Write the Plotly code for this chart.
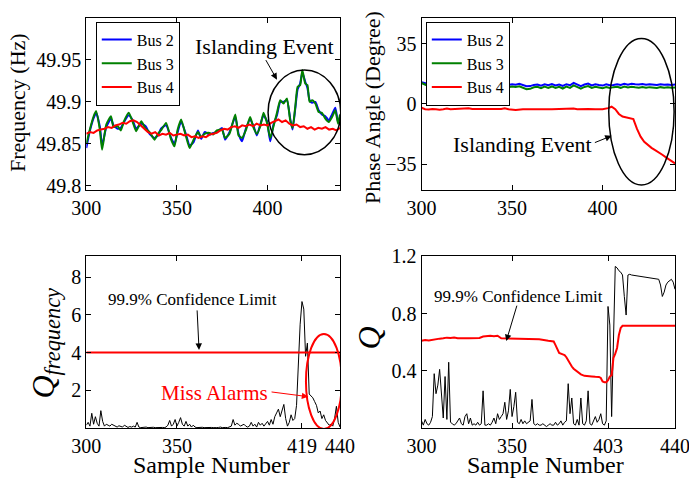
import plotly.graph_objects as go

# ---------------- data ----------------
# Panel 1: frequency (Hz)
freq_x = [300, 301.8, 303.9, 305.4, 307.5, 308.7, 311, 313.6, 315, 317.3, 319, 320.8, 323.4, 325.6,
          327.5, 330.3, 332.7, 334.9, 337.6, 339.5, 341.2, 344, 346.8, 348.6, 350.4, 352.3, 355, 357,
          359.2, 361.6, 363.4, 365.3, 368, 370, 372, 374.8, 376.6, 379, 382.2, 384, 385.9, 388, 390.4,
          392.3, 394.1, 396, 397.8, 399.7, 401.5, 403.3, 405.2, 407, 408.8, 410.7, 412.5, 413.8, 415.3,
          416.6, 418, 419.2, 420.8, 422, 423.2, 424.6, 426.4, 428.2, 430, 431.9, 433.8, 435.6, 437.4,
          438.9, 440]
bus3_freq = [49.850, 49.866, 49.882, 49.889, 49.866, 49.843, 49.873, 49.883, 49.870, 49.871, 49.866,
             49.877, 49.887, 49.876, 49.865, 49.877, 49.868, 49.864, 49.855, 49.862, 49.866, 49.875,
             49.855, 49.847, 49.867, 49.879, 49.859, 49.845, 49.855, 49.864, 49.858, 49.862, 49.863,
             49.861, 49.866, 49.867, 49.857, 49.862, 49.885, 49.860, 49.857, 49.866, 49.882, 49.869,
             49.862, 49.871, 49.887, 49.875, 49.857, 49.871, 49.887, 49.902, 49.898, 49.904, 49.878,
             49.869, 49.894, 49.918, 49.920, 49.938, 49.922, 49.920, 49.900, 49.902, 49.898, 49.888,
             49.887, 49.880, 49.876, 49.882, 49.890, 49.874, 49.885]
bus2_freq = [49.845, 49.864, 49.880, 49.887, 49.870, 49.848, 49.870, 49.880, 49.872, 49.868, 49.869,
             49.876, 49.884, 49.878, 49.868, 49.874, 49.871, 49.862, 49.857, 49.860, 49.868, 49.872,
             49.857, 49.850, 49.864, 49.877, 49.861, 49.848, 49.852, 49.866, 49.856, 49.864, 49.861,
             49.863, 49.864, 49.869, 49.855, 49.864, 49.882, 49.862, 49.853, 49.868, 49.879, 49.871,
             49.860, 49.873, 49.884, 49.877, 49.853, 49.873, 49.884, 49.900, 49.900, 49.902, 49.880,
             49.867, 49.892, 49.915, 49.922, 49.935, 49.924, 49.917, 49.902, 49.899, 49.900, 49.890,
             49.885, 49.883, 49.878, 49.885, 49.893, 49.876, 49.882]
step2_x = list(range(300, 441, 2))
bus4_freq = [49.862, 49.864, 49.863, 49.866, 49.867, 49.868, 49.870, 49.869, 49.872, 49.873,
             49.875, 49.874, 49.877, 49.878, 49.876, 49.872, 49.869, 49.864, 49.862, 49.864,
             49.860, 49.862, 49.861, 49.863, 49.860, 49.861, 49.862, 49.860, 49.861, 49.858,
             49.859, 49.857, 49.859, 49.858, 49.861, 49.862, 49.863, 49.866, 49.868, 49.867,
             49.870, 49.871, 49.869, 49.872, 49.871, 49.873, 49.871, 49.874, 49.872, 49.873,
             49.872, 49.875, 49.877, 49.879, 49.876, 49.878, 49.874, 49.872, 49.873, 49.870,
             49.871, 49.868, 49.870, 49.867, 49.869, 49.868, 49.870, 49.867, 49.868, 49.866,
             49.869]

# Panel 2: phase angle (degree)
bus2_phase = [12.6, 12.0, 11.4, 11.0, 11.3, 10.9, 11.4, 11.1, 11.3, 11.0,
              11.4, 11.2, 11.0, 11.3, 11.1, 11.4, 11.0, 11.2, 11.4, 11.1,
              11.3, 11.0, 11.4, 11.2, 11.1, 11.5, 11.2, 11.7, 11.0, 10.3,
              10.4, 11.1, 11.3, 10.7, 11.4, 10.9, 11.6, 10.8, 11.3, 10.5,
              11.5, 10.9, 12.3, 11.1, 10.4, 11.3, 11.9, 10.8, 11.4, 11.0,
              10.7, 11.4, 10.9, 11.1, 11.5, 11.0, 11.7, 11.2, 11.8, 11.5,
              11.3, 11.6, 11.2, 11.5, 11.3, 11.1, 11.5, 11.2, 11.4, 11.1, 11.3]
bus3_phase = [12.2, 11.2, 10.3, 9.8, 10.1, 9.6, 10.0, 9.7, 10.0, 9.7,
              10.1, 9.8, 9.6, 10.0, 9.8, 10.1, 9.7, 9.9, 10.1, 9.8,
              10.0, 9.7, 10.1, 9.9, 9.8, 10.2, 9.9, 10.3, 9.5, 8.6,
              8.8, 9.7, 10.0, 9.2, 10.1, 9.4, 10.2, 9.3, 10.0, 9.0,
              10.1, 9.4, 10.8, 9.6, 8.9, 9.9, 10.4, 9.3, 10.0, 9.6,
              9.2, 9.9, 9.3, 9.8, 10.0, 9.4, 10.1, 9.6, 10.0, 9.7,
              9.5, 9.9, 9.4, 9.8, 9.6, 9.3, 9.8, 9.5, 9.7, 9.4, 9.6]
bus4_phase_x = [300, 302, 304, 306, 308, 310, 312, 314, 316, 318,
                320, 324, 326, 328, 332, 336, 340, 344, 346, 348,
                352, 356, 360, 364, 368, 372, 376, 380, 384, 386,
                388, 392, 396, 400, 403, 405, 407, 409, 411, 413,
                415, 417, 419, 421, 423, 425, 427, 429, 431, 433,
                435, 437, 440]
bus4_phase = [-2.2, -3.0, -3.2, -2.9, -3.1, -3.3, -3.0, -2.6, -3.1, -3.0,
              -3.2, -2.8, -2.5, -2.9, -3.0, -3.1, -3.0, -2.9, -2.5, -3.0,
              -3.5, -3.0, -3.1, -2.9, -3.0, -3.1, -2.9, -3.0, -2.6, -3.0,
              -3.1, -2.9, -3.0, -3.0, -2.4, -1.6, -3.0, -5.8, -7.3, -7.8,
              -8.2, -8.8, -14.5, -19.0, -22.0, -24.0, -25.5, -26.8, -28.0, -29.5,
              -31.0, -32.5, -34.5]

# Panel 3: Q_frequency
sample_x = list(range(300, 441))
q_freq = [0.15, 0.30, 0.10, 0.78, 0.20, 0.60, 0.25, 0.10, 0.92, 0.35,
          0.10, 0.20, 0.15, 0.10, 0.20, 0.15, 0.10, 0.05, 0.12, 0.08,
          0.05, 0.15, 0.10, 0.03, 0.08, 0.05, 0.10, 0.05, 0.30, 0.05,
          0.02, 0.04, 0.02, 0.05, 0.02, 0.03, 0.02, 0.04, 0.02, 0.03,
          0.05, 0.02, 0.03, 0.02, 0.05, 0.15, 0.40, 0.10, 0.20, 0.45,
          0.10, 0.30, 0.55, 0.20, 0.10, 0.35, 0.10, 0.20, 0.05, 0.15,
          0.05, 0.02, 0.03, 0.02, 0.04, 0.02, 0.03, 0.02, 0.05, 0.03,
          0.02, 0.04, 0.02, 0.03, 0.05, 0.02, 0.04, 0.03, 0.02, 0.05,
          0.10, 0.45, 0.15, 0.25, 0.20, 0.10, 0.15, 0.20, 0.10, 0.05,
          0.10, 0.30, 0.10, 0.20, 0.05, 0.30, 0.15, 0.25, 0.10, 0.20,
          0.35, 0.15, 0.45, 0.20, 0.60, 0.80, 1.00, 0.60, 0.90, 1.25,
          0.50, 0.10, 0.30, 0.70, 0.40, 0.50, 1.20, 3.80, 5.50, 6.70,
          6.30, 3.80, 4.50, 1.80, 1.70, 1.60, 1.40, 1.20, 0.80, 0.90,
          0.50, 0.70, 0.40, 0.30, 0.15, 0.20, 0.10, 0.50, 1.15, 0.30,
          0.05]
q_freq_limit = 4.0

# Panel 4: Q
q_pca = [0.05, 0.02, 0.06, 0.03, 0.02, 0.04, 0.08, 0.38, 0.24, 0.30,
         0.41, 0.20, 0.07, 0.36, 0.06, 0.46, 0.04, 0.03, 0.02, 0.03,
         0.05, 0.07, 0.03, 0.02, 0.08, 0.10, 0.03, 0.07, 0.02, 0.03,
         0.02, 0.04, 0.02, 0.03, 0.26, 0.02, 0.02, 0.03, 0.02, 0.04,
         0.07, 0.03, 0.10, 0.06, 0.08, 0.10, 0.18, 0.06, 0.12, 0.27,
         0.08, 0.15, 0.25, 0.04, 0.03, 0.06, 0.03, 0.05, 0.03, 0.04,
         0.05, 0.20, 0.03, 0.02, 0.03, 0.02, 0.02, 0.03, 0.02, 0.01,
         0.02, 0.03, 0.02, 0.02, 0.04, 0.02, 0.03, 0.05, 0.02, 0.04,
         0.05, 0.31, 0.10, 0.21, 0.03, 0.02, 0.06, 0.02, 0.21, 0.03,
         0.02, 0.05, 0.26, 0.03, 0.02, 0.05, 0.08, 0.04, 0.06, 0.10,
         0.03, 0.02, 0.05, 0.85, 0.72, 0.08, 0.60, 1.13, 1.12, 1.10,
         1.09, 1.07, 0.92, 0.79, 1.07, 1.075, 1.07, 1.068, 1.065, 1.063,
         1.06, 1.058, 1.055, 1.053, 1.052, 1.05, 1.05, 1.048, 1.046, 1.045,
         1.043, 1.04, 1.0, 0.92, 0.95, 1.0, 1.02, 1.03, 1.04, 1.02,
         0.97]
q_limit_x = [300, 302, 304, 306, 308, 310, 312, 314, 316, 318, 320, 322, 324, 326, 328, 330, 332,
             334, 336, 338, 340, 342, 344, 346, 350, 355, 360, 365, 370, 373, 374, 375, 376, 378,
             379, 380, 381, 382, 383, 384, 385, 386, 387, 388, 390, 392, 394, 396, 398, 399, 400,
             401, 402, 403, 404, 405, 405.5, 406, 407, 408, 409, 410, 411, 440]
q_limit = [0.61, 0.615, 0.612, 0.618, 0.62, 0.625, 0.628, 0.632, 0.63, 0.633, 0.628, 0.63, 0.627,
           0.628, 0.63, 0.628, 0.63, 0.64, 0.645, 0.645, 0.642, 0.645, 0.628, 0.627, 0.625, 0.625,
           0.623, 0.62, 0.61, 0.605, 0.58, 0.55, 0.525, 0.515, 0.51, 0.495, 0.47, 0.45, 0.43, 0.415,
           0.405, 0.395, 0.385, 0.375, 0.365, 0.36, 0.36, 0.358, 0.357, 0.35, 0.325, 0.32, 0.32,
           0.335, 0.36, 0.37, 0.42, 0.49, 0.52, 0.56, 0.65, 0.70, 0.715, 0.715]

# ---------------- figure ----------------
FONT = "Liberation Serif"
BLUE, GREEN, RED = "#0000ff", "#008000", "#ff0000"

fig = go.Figure()
fig.add_trace(go.Scatter(x=freq_x, y=bus2_freq, name="Bus 2", mode="lines",
                         line=dict(color=BLUE, width=2, shape="spline", smoothing=0.5),
                         xaxis="x", yaxis="y", legend="legend"))
fig.add_trace(go.Scatter(x=freq_x, y=bus3_freq, name="Bus 3", mode="lines",
                         line=dict(color=GREEN, width=2, shape="spline", smoothing=0.5),
                         xaxis="x", yaxis="y", legend="legend"))
fig.add_trace(go.Scatter(x=step2_x, y=bus4_freq, name="Bus 4", mode="lines",
                         line=dict(color=RED, width=2),
                         xaxis="x", yaxis="y", legend="legend"))

fig.add_trace(go.Scatter(x=step2_x, y=bus2_phase, name="Bus 2", mode="lines",
                         line=dict(color=BLUE, width=2), xaxis="x2", yaxis="y2", legend="legend2"))
fig.add_trace(go.Scatter(x=step2_x, y=bus3_phase, name="Bus 3", mode="lines",
                         line=dict(color=GREEN, width=2), xaxis="x2", yaxis="y2", legend="legend2"))
fig.add_trace(go.Scatter(x=bus4_phase_x, y=bus4_phase, name="Bus 4", mode="lines",
                         line=dict(color=RED, width=2), xaxis="x2", yaxis="y2", legend="legend2"))

fig.add_trace(go.Scatter(x=sample_x, y=q_freq, mode="lines", showlegend=False,
                         line=dict(color="black", width=1), xaxis="x3", yaxis="y3"))
fig.add_trace(go.Scatter(x=[sample_x[0], sample_x[-1]], y=[q_freq_limit, q_freq_limit], mode="lines",
                         showlegend=False, line=dict(color=RED, width=2), xaxis="x3", yaxis="y3"))

fig.add_trace(go.Scatter(x=sample_x, y=q_pca, mode="lines", showlegend=False,
                         line=dict(color="black", width=1), xaxis="x4", yaxis="y4"))
fig.add_trace(go.Scatter(x=q_limit_x, y=q_limit, mode="lines", showlegend=False,
                         line=dict(color=RED, width=2), xaxis="x4", yaxis="y4"))

axis_common = dict(showline=True, linecolor="black", linewidth=1, mirror="ticks",
                   ticks="inside", ticklen=5, tickcolor="black", showgrid=False, zeroline=False,
                   automargin=False, ticklabeloverflow="allow",
                   tickfont=dict(family=FONT, size=20, color="black"))

XL = [0.1253, 0.4935]
XR = [0.6118, 0.9797]
YT = [0.6042, 0.9625]
YB = [0.1083, 0.4673]

legend_style = dict(xanchor="left", yanchor="top", bgcolor="white", bordercolor="black",
                    borderwidth=1, font=dict(family=FONT, size=16, color="black"), tracegroupgap=0)

fig.update_layout(
    width=689, height=480, margin=dict(l=0, r=0, t=0, b=0, pad=0, autoexpand=False),
    plot_bgcolor="white", paper_bgcolor="white",
    font=dict(family=FONT, color="black"),
    xaxis=dict(domain=XL, anchor="y", range=[300, 440], tickvals=[300, 350, 400], **axis_common),
    yaxis=dict(domain=YT, anchor="x", range=[49.795, 50.0], tickvals=[49.8, 49.85, 49.9, 49.95],
               ticktext=["49.8", "49.85", "49.9", "49.95"], **axis_common),
    xaxis2=dict(domain=XR, anchor="y2", range=[300, 440], tickvals=[300, 350, 400], **axis_common),
    yaxis2=dict(domain=YT, anchor="x2", range=[-50, 50], tickvals=[-35, 0, 35], **axis_common),
    xaxis3=dict(domain=XL, anchor="y3", range=[300, 440], tickvals=[300, 350, 419, 440], **axis_common),
    yaxis3=dict(domain=YB, anchor="x3", range=[0, 9.13], tickvals=[2, 4, 6, 8], **axis_common),
    xaxis4=dict(domain=XR, anchor="y4", range=[300, 440], tickvals=[300, 350, 403, 440], **axis_common),
    yaxis4=dict(domain=YB, anchor="x4", range=[0, 1.205], tickvals=[0.4, 0.8, 1.2],
                ticktext=["0.4", "0.8", "1.2"], **axis_common),
    legend=dict(x=0.139, y=0.955, **legend_style),
    legend2=dict(x=0.618, y=0.955, **legend_style),
)

# ellipses
fig.add_shape(type="circle", xref="x", yref="y", x0=400.3, x1=440.4, y0=49.837, y1=49.938,
              line=dict(color="black", width=1.5))
fig.add_shape(type="circle", xref="x2", yref="y2", x0=403.4, x1=439.5, y0=-47.1, y1=38.1,
              line=dict(color="black", width=1.5))
fig.add_shape(type="circle", xref="x3", yref="y3", x0=421.2, x1=441.0, y0=-0.05, y1=4.98,
              line=dict(color=RED, width=2))

ann = []
def text(x, y, s, size, xref, yref, color="black", angle=0):
    ann.append(dict(x=x, y=y, xref=xref, yref=yref, text=s, showarrow=False, textangle=angle,
                    font=dict(family=FONT, size=size, color=color), xanchor="center", yanchor="middle"))

def arrow(xt, yt, xh, yh, axn, color="black"):
    ann.append(dict(x=xh, y=yh, ax=xt, ay=yt, xref=axn[0], yref=axn[1], axref=axn[0], ayref=axn[1],
                    text="", showarrow=True, arrowhead=2, arrowsize=1.3, arrowwidth=1, arrowcolor=color))

# axis titles
text(17.5 / 689, 1 - 102.5 / 480, "Frequency (Hz)", 22, "paper", "paper", angle=-90)
text(372.5 / 689, 1 - 107.6 / 480, "Phase Angle (Degree)", 22, "paper", "paper", angle=-90)
text(44.5 / 689, 1 - 343 / 480, "<i>Q</i><sub><i>frequency</i></sub>", 32, "paper", "paper", angle=-90)
text(368.5 / 689, 1 - 338 / 480, "<i>Q</i>", 32, "paper", "paper", angle=-90)
text(211.7 / 689, 1 - 465 / 480, "Sample Number", 24, "paper", "paper")
text(545.8 / 689, 1 - 465 / 480, "Sample Number", 24, "paper", "paper")

# panel annotations
text(398.3, 49.966, "Islanding Event", 22, "x", "y")
arrow(398.6, 49.9516, 405.2, 49.9265, ("x", "y"))
text(355.7, -23.7, "Islanding Event", 22, "x2", "y2")
arrow(394.9, -22.8, 405.0, -18.5, ("x2", "y2"))
text(358.6, 6.79, "99.9% Confidence Limit", 17, "x3", "y3")
arrow(361.1, 6.31, 362.2, 4.14, ("x3", "y3"))
text(370.5, 1.86, "Miss Alarms", 21, "x3", "y3", color=RED)
arrow(401.4, 1.92, 422.5, 1.66, ("x3", "y3"), color=RED)
text(353.4, 0.922, "99.9% Confidence Limit", 17, "x4", "y4")
arrow(352.9, 0.866, 346.8, 0.608, ("x4", "y4"))

fig.update_layout(annotations=ann)
fig.write_html("out.html")
